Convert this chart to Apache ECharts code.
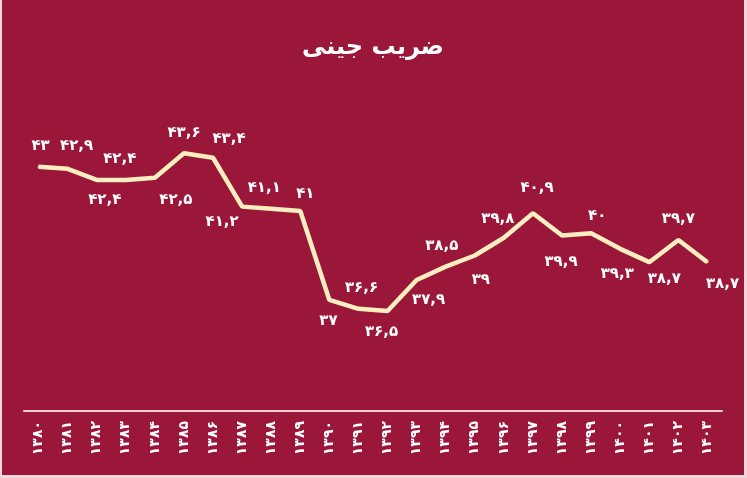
<!DOCTYPE html>
<html><head><meta charset="utf-8">
<script src="https://cdn.jsdelivr.net/npm/echarts@6/dist/echarts.min.js"></script>
<style>html,body{margin:0;padding:0;background:#f1d6dc;width:747px;height:478px;overflow:hidden;}#c{position:absolute;left:2px;top:0;width:742px;height:475px;}</style>
</head><body><div id="c"></div>
<script>
const years = ['۱۳۸۰','۱۳۸۱','۱۳۸۲','۱۳۸۳','۱۳۸۴','۱۳۸۵','۱۳۸۶','۱۳۸۷','۱۳۸۸','۱۳۸۹','۱۳۹۰','۱۳۹۱','۱۳۹۲','۱۳۹۳','۱۳۹۴','۱۳۹۵','۱۳۹۶','۱۳۹۷','۱۳۹۸','۱۳۹۹','۱۴۰۰','۱۴۰۱','۱۴۰۲','۱۴۰۳'];
const gini = [43, 42.9, 42.4, 42.4, 42.5, 43.6, 43.4, 41.2, 41.1, 41, 37, 36.6, 36.5, 37.9, 38.5, 39, 39.8, 40.9, 39.9, 40, 39.3, 38.7, 39.7, 38.7];
const title = 'ضریب جینی';

// label placement (style only)
const labelSide = ['top','top','bottom','top','bottom','top','top','bottom','top','top','bottom','top','bottom','bottom','top','bottom','top','top','bottom','top','bottom','bottom','top','bottom'];
const labelOff = [[2,0],[9,-2],[8,0],[-6,0],[21,2],[0,0],[16,2],[-20,-5],[-7,0],[5,4],[-1,1],[3,0],[-6,1],[12,0],[-4,0],[6,4],[-6,2],[4,-5],[-1,6],[6,3],[-3,5],[15,-4],[0,0],[15,1]];

const fa = d => String(d).replace(/[0-9]/g, c => '۰۱۲۳۴۵۶۷۸۹'[+c]).replace('.', ',');

const chart = echarts.init(document.getElementById('c'), null, {renderer:'canvas'});
chart.setOption({
  backgroundColor: '#9b173a',
  title: {text: title, left: 'center', top: 31,
    textStyle: {color:'#fff', fontSize: 24, fontWeight:'bold', fontFamily:'DejaVu Sans'}},
  grid: {left: 22, right: 22, top: 100, bottom: 64},
  xAxis: {type:'category', data: years, boundaryGap: true,
    axisLine: {lineStyle: {color:'#f3cdd6', width: 2}},
    axisTick: {show:false},
    axisLabel: {rotate: 90, color:'#fff', fontSize: 14, fontWeight:'bold', fontFamily:'DejaVu Sans', margin: 10, interval: 0}},
  yAxis: {type:'value', min: 32, max: 46, show:false, splitLine:{show:false}},
  series: [{
    type:'line', symbol:'circle', symbolSize: 2, showSymbol: true, smooth:false,
    itemStyle: {color:'#fdeec0'},
    lineStyle: {color:'#fdeec0', width: 4.5},
    data: gini.map((v,i) => ({value: v, label: {show: true, position: labelSide[i], offset: labelOff[i]}})),
    label: {show:true, distance: 12, color:'#fff', fontSize: 15, fontWeight:'bold', fontFamily:'DejaVu Sans',
      formatter: p => fa(p.value)}
  }]
});
</script></body></html>
